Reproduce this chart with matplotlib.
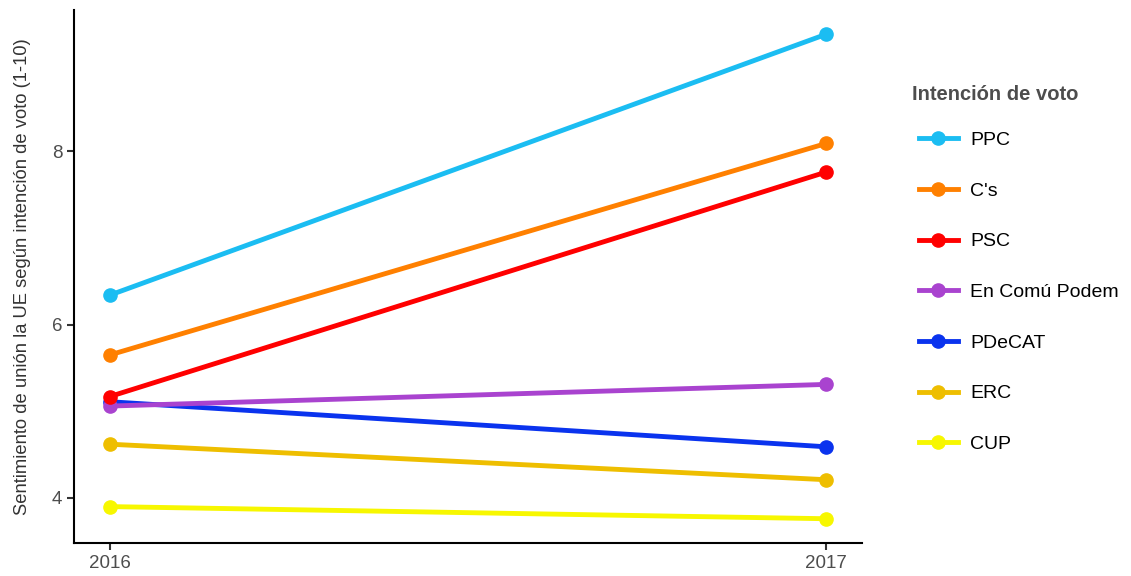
import matplotlib.pyplot as plt
from matplotlib.lines import Line2D

plt.rcParams['font.family'] = ['Liberation Sans', 'DejaVu Sans']

years = [2016, 2017]
partidos = ['PPC', "C's", 'PSC', 'En Comú Podem', 'PDeCAT', 'ERC', 'CUP']
ppc = [6.34, 9.35]
cs = [5.65, 8.09]
psc = [5.17, 7.76]
comu = [5.06, 5.31]
pdecat = [5.11, 4.59]
erc = [4.62, 4.21]
cup = [3.90, 3.76]
valores = [ppc, cs, psc, comu, pdecat, erc, cup]
colores = ['#1BBDF2', '#FF8000', '#FF0000', '#A943CF', '#0A33EE', '#EEBE00', '#F7F700']

fig = plt.figure(figsize=(11.31, 5.76), dpi=100)
ax = fig.add_axes([74 / 1131, 33 / 576, (862 - 74) / 1131, (543 - 10) / 576])

# draw bottom series first so the upper ones sit on top like the original
for nombre, vals, col in zip(partidos[::-1], valores[::-1], colores[::-1]):
    ax.plot(years, vals, color=col, lw=3.5, marker='o', ms=9.5, solid_capstyle='butt', label=nombre)

ax.set_xlim(2015.95, 2017.05)
ax.set_ylim(3.48, 9.63)
ax.set_xticks(years)
ax.set_yticks([4, 6, 8])
for s in ['top', 'right']:
    ax.spines[s].set_visible(False)
for s in ['left', 'bottom']:
    ax.spines[s].set_linewidth(1.5)
    ax.spines[s].set_color('black')
ax.tick_params(length=5, width=1.5, color='#333333', labelsize=13.5, labelcolor='#4D4D4D')
ax.set_ylabel('Sentimiento de unión la UE según intención de voto (1-10)', fontsize=13.2, color='#333333')
ax.yaxis.set_label_coords(-0.054, 0.5)

# legend title as separate text so the spacing to the keys matches
fig.text(912 / 1131, 1 - 95 / 576, 'Intención de voto', fontsize=14.5, fontweight='bold',
         color='#4D4D4D', va='center', ha='left')
handles = [Line2D([], [], color=c, lw=3.5, marker='o', ms=9.5) for c in colores]
leg = fig.legend(handles, partidos, loc='upper left', bbox_to_anchor=(901 / 1131, 1 - 114 / 576),
                 frameon=False, fontsize=14,
                 handlelength=2.05, handletextpad=0.6, labelspacing=1.7)

fig.savefig('out.png', dpi=100)
